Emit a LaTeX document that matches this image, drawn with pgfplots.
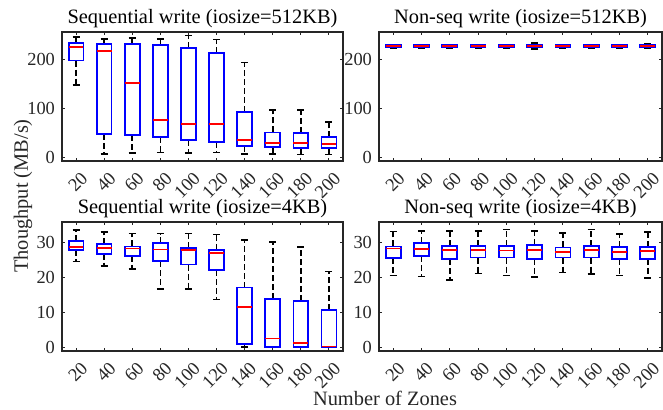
\documentclass[border=0pt]{standalone}
\usepackage{fontspec}
\setmainfont{Liberation Serif}
\usepackage{pgfplots}
\usepgfplotslibrary{statistics}
\pgfplotsset{compat=1.18}
\definecolor{axgray}{gray}{0.15}

% one box: position, low whisker, Q1, median, Q3, high whisker
\newcommand{\bx}[6]{\addplot[draw=blue, boxplot prepared={draw position=#1,
  lower whisker=#2, lower quartile=#3, median=#4,
  upper quartile=#5, upper whisker=#6}] coordinates {};}

\pgfplotsset{
  zonebox/.style={
    scale only axis, height=64.5pt,
    xmin=0.5, xmax=10.5,
    xtick={1,...,10},
    xticklabels={20,40,60,80,100,120,140,160,180,200},
    xticklabel style={xshift=2pt, yshift=-3.3pt, rotate=45, anchor=north east, inner sep=1pt},
    tick label style={text=axgray, font=\fontsize{9.2}{10}\selectfont},
    tick align=inside, tick pos=both, major tick length=1.5pt,
    axis line style={axgray, line width=0.6pt},
    every tick/.style={axgray, line width=0.5pt},
    /pgf/number format/assume math mode=true,
    title style={font=\fontsize{10.2}{12}\selectfont, anchor=base, yshift=-2pt},
    boxplot/draw direction=y,
    boxplot/box extend=0.53,
    boxplot/whisker extend=0.25,
    boxplot/every box/.style={draw=blue, line width=0.9pt},
    boxplot/every median/.style={draw=red, line width=0.9pt},
    boxplot/draw/lower whisker/.code={%
      \draw[black, line width=0.8pt, dash pattern=on 3pt off 1.5pt]
        (boxplot cs:\pgfplotsboxplotvalue{lower quartile}) --
        (boxplot cs:\pgfplotsboxplotvalue{lower whisker});
      \draw[black, line width=0.8pt]
        (boxplot whisker cs:\pgfplotsboxplotvalue{lower whisker},0) --
        (boxplot whisker cs:\pgfplotsboxplotvalue{lower whisker},1);
    },
    boxplot/draw/upper whisker/.code={%
      \draw[black, line width=0.8pt, dash pattern=on 3pt off 1.5pt]
        (boxplot cs:\pgfplotsboxplotvalue{upper quartile}) --
        (boxplot cs:\pgfplotsboxplotvalue{upper whisker});
      \draw[black, line width=0.8pt]
        (boxplot whisker cs:\pgfplotsboxplotvalue{upper whisker},0) --
        (boxplot whisker cs:\pgfplotsboxplotvalue{upper whisker},1);
    },
  }
}

\begin{document}
\begin{tikzpicture}
\path[use as bounding box] (0,0) rectangle (331.5pt,-205pt);

% --- top left: sequential 512KB
\begin{axis}[zonebox, at={(31pt,-16pt)}, anchor=north west, width=140.5pt,
  ymin=-7, ymax=255, ytick={0,100,200},
  title={Sequential write (iosize=512KB)}]
\bx{1}{147}{197}{224}{233}{245}
\bx{2}{7}{48}{216}{230}{241}
\bx{3}{9}{45}{151}{230}{243}
\bx{4}{10}{42}{76}{228}{241}
\bx{5}{9}{35}{68}{222}{248}
\bx{6}{10}{32}{68}{212}{240}
\bx{7}{7}{24}{36}{93}{193}
\bx{8}{7}{21}{29}{51}{97}
\bx{9}{6}{20}{29}{50}{96}
\bx{10}{6}{20}{28}{41}{72}
\end{axis}

% --- top right: non-sequential 512KB
\begin{axis}[zonebox, at={(189.5pt,-16pt)}, anchor=north west, width=141.5pt,
  ymin=-7, ymax=255, ytick={0,100,200},
  title={Non-seq write (iosize=512KB)}]
\bx{1}{222}{224}{226}{228}{230}
\bx{2}{222}{224}{226}{228}{230}
\bx{3}{222}{224}{226}{228}{230}
\bx{4}{223}{225}{226}{228}{230}
\bx{5}{223}{225}{226}{228}{230}
\bx{6}{220}{224}{226}{229}{233}
\bx{7}{222}{224}{226}{228}{230}
\bx{8}{222}{224}{226}{228}{230}
\bx{9}{223}{225}{226}{228}{230}
\bx{10}{222}{224}{226}{228}{231}
\end{axis}

% --- bottom left: sequential 4KB
\begin{axis}[zonebox, at={(31pt,-111pt)}, anchor=north west, width=140.5pt,
  ymin=-1, ymax=36, ytick={0,10,20,30},
  title={Sequential write (iosize=4KB)}]
\bx{1}{24.7}{28.0}{28.8}{30.5}{33.7}
\bx{2}{23.4}{26.9}{28.5}{29.6}{33.1}
\bx{3}{22.6}{26.3}{28.4}{29.0}{32.7}
\bx{4}{16.7}{24.7}{28.1}{30.0}{32.7}
\bx{5}{16.7}{23.8}{27.9}{28.5}{32.7}
\bx{6}{13.8}{22.2}{27.2}{27.9}{32.4}
\bx{7}{0.1}{1.1}{11.6}{17.2}{30.8}
\bx{8}{0}{0.2}{2.6}{14.0}{30.3}
\bx{9}{0}{0.2}{1.25}{13.3}{28.8}
\bx{10}{0}{0.1}{0.3}{10.8}{21.8}
\end{axis}

% --- bottom right: non-sequential 4KB
\begin{axis}[zonebox, at={(189.5pt,-111pt)}, anchor=north west, width=141.5pt,
  ymin=-1, ymax=36, ytick={0,10,20,30},
  title={Non-seq write (iosize=4KB)}]
\bx{1}{20.6}{25.7}{28.4}{29.0}{33.3}
\bx{2}{20.4}{26.2}{28.3}{30.0}{33.5}
\bx{3}{19.4}{25.3}{27.9}{29.2}{33.5}
\bx{4}{21.2}{25.8}{27.9}{29.2}{33.5}
\bx{5}{20.7}{25.8}{27.8}{29.2}{33.8}
\bx{6}{20.2}{25.4}{28.0}{29.5}{33.5}
\bx{7}{21.5}{25.8}{27.5}{28.7}{32.9}
\bx{8}{21.1}{25.8}{28.0}{29.2}{33.8}
\bx{9}{20.7}{25.4}{27.5}{28.8}{32.6}
\bx{10}{20.0}{25.3}{27.7}{28.8}{33.1}
\end{axis}

\node[rotate=90, font=\fontsize{10.2}{12}\selectfont, text=axgray] at (11.5pt,-98pt) {Thoughput (MB/s)};
\node[font=\fontsize{10.2}{12}\selectfont, text=axgray] at (192.5pt,-199pt) {Number of Zones};
\end{tikzpicture}
\end{document}
